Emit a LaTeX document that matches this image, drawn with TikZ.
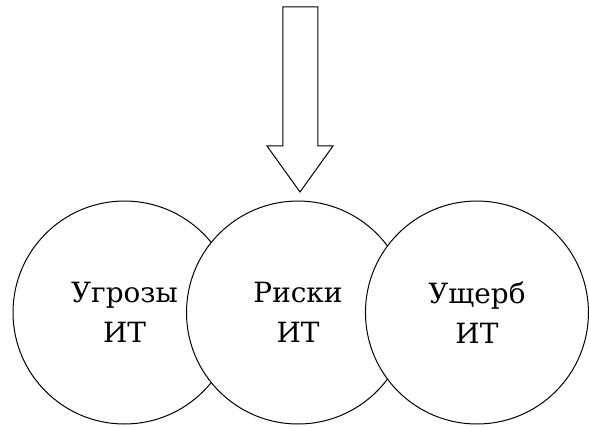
\documentclass[tikz,border=0pt]{standalone}
\usepackage{fontspec}
\setmainfont{DejaVu Serif}
\usetikzlibrary{calc}

\begin{document}
\begin{tikzpicture}[line cap=round, line join=miter, line width=0.75pt]
    \useasboundingbox (0,0) rectangle (15.585,-11.298);
    \tikzset{
        blob/.style={circle, draw, fill=white, minimum size=5.90cm, inner sep=0pt,
                     align=center, font=\fontsize{21}{30}\selectfont},
        hollow/.style={draw, fill=white}
    }

    % --- circle centres
    \coordinate (L) at ( 3.294,-8.269);
    \coordinate (M) at ( 7.885,-8.269);
    \coordinate (R) at (12.620,-8.269);

    % --- arrow corners
    \coordinate (S1) at (7.488,-0.185);
    \coordinate (S2) at (8.414,-0.185);
    \coordinate (S3) at (8.414,-3.863);
    \coordinate (H2) at (8.811,-3.863);
    \coordinate (T)  at (7.938,-5.080);
    \coordinate (H1) at (7.065,-3.863);
    \coordinate (S4) at (7.488,-3.863);

    % --- hollow arrow pointing down
    \draw[hollow] (S1) -- (S2) -- (S3) -- (H2) -- (T) -- (H1) -- (S4) -- cycle;

    % --- circles, later ones cover the earlier ones
    \node[blob] (threats) at (L) {Угрозы\\ИТ};
    \node[blob] (risks)   at (M) {Риски\\ИТ};
    \node[blob] (damage)  at (R) {Ущерб\\ИТ};

\end{tikzpicture}
\end{document}
